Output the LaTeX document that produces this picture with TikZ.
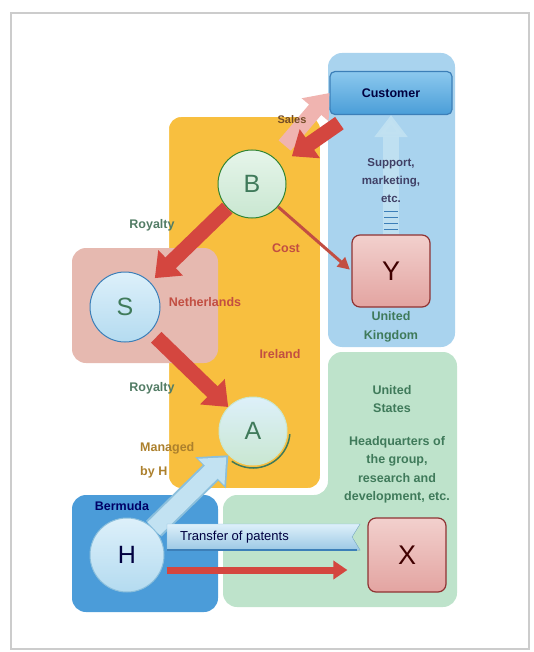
\documentclass[tikz,border=0pt]{standalone}
\usepackage{fontspec}
\setmainfont{Liberation Sans}
\usetikzlibrary{positioning, calc, arrows.meta, shapes}
\definecolor{ireland}{HTML}{F8BF3F}
\definecolor{ukblue}{HTML}{A9D3EE}
\definecolor{usgreen}{HTML}{BEE3CB}
\definecolor{nlpink}{HTML}{E6B9B0}
\definecolor{bermuda}{HTML}{4B9CD9}
\definecolor{royred}{HTML}{D4463F}
\definecolor{salespink}{HTML}{F0B4B0}
\definecolor{paleblue}{HTML}{C2E2F2}
\definecolor{paleedge}{HTML}{8BBFDC}
\definecolor{darkgreen}{HTML}{3F7A5A}
\definecolor{rustred}{HTML}{C24E42}
\definecolor{mintlight}{HTML}{E6F5EA}
\definecolor{mint}{HTML}{C9E7D1}
\definecolor{skylight}{HTML}{DDF0FA}
\definecolor{sky}{HTML}{B4DBF0}
\definecolor{boxlight}{HTML}{F2D0CD}
\definecolor{boxdark}{HTML}{E3A4A1}
\definecolor{custlight}{HTML}{8CC8EE}
\definecolor{custdark}{HTML}{4A9ED8}
\definecolor{stripe}{HTML}{3C7FB8}

\begin{document}
\begin{tikzpicture}
        [
            x=1pt, y=-1pt,
            region/.style={rounded corners=14pt, fill=#1},
            ball/.style={circle, inner sep=0pt, line width=1pt,
                         font=\fontsize{25}{25}\selectfont},
            sqbox/.style={rectangle, rounded corners=8pt, minimum width=78pt,
                          minimum height=72pt, top color=boxlight, bottom color=boxdark,
                          draw=red!45!black!80, line width=1.2pt, text=red!25!black,
                          font=\fontsize{27}{27}\selectfont},
            lbl/.style={inner sep=0pt, align=center, text=#1,
                        font=\bfseries\fontsize{12.5}{18.5}\selectfont},
            fatred/.style={royred, line width=15pt,
                           -{Triangle[length=22pt, width=34pt]}},
            thinred/.style={rustred, line width=3pt,
                            -{Triangle[length=12pt, width=12pt]}}
        ]
        \useasboundingbox (0,0) rectangle (533,652);
        \draw [gray!40, line width=1.5pt] (11,13) rectangle (529,649);

        \fill [region=usgreen] (328,352) -- (457,352) -- (457,607) -- (223,607)
              -- (223,495) -- (328,495) -- cycle;
        \filldraw [region=ireland, draw=white, line width=4pt]
              (167,115) rectangle (322,490);
        \fill [region=nlpink] (72,248) rectangle (218,363);
        \fill [region=ukblue] (328,53) rectangle (455,347);
        \fill [region=bermuda] (72,495) rectangle (218,612);

        \node (B) [ball, minimum size=68pt, top color=mintlight, bottom color=mint,
                   draw=green!40!black!80, text=darkgreen] at (252,184) {B};
        \node (S) [ball, minimum size=70pt, top color=skylight, bottom color=sky,
                   draw=stripe, text=darkgreen] at (125,307) {S};
        \node (A) [ball, minimum size=68pt, top color=skylight, bottom color=mint,
                   draw=mint, text=darkgreen] at (253,431) {A};
        \node (H) [ball, minimum size=74pt, top color=skylight, bottom color=sky,
                   draw=paleedge, text=blue!25!black] at (127,555) {H};
        \node (Y) [sqbox] at (391,271) {Y};
        \node (X) [sqbox, minimum height=74pt] at (407,555) {X};
        \node (Customer) [rectangle, rounded corners=5pt, minimum width=122pt,
                   minimum height=43pt, top color=custlight, bottom color=custdark,
                   draw=stripe, line width=1.2pt, text=blue!25!black,
                   font=\bfseries\fontsize{12.5}{12.5}\selectfont] at (391,93) {Customer};
        \draw [darkgreen, line width=1.5pt]
              ([shift={(-5:37pt)}]A.center) arc [start angle=-5, end angle=-125, radius=37pt];

        \draw [paleblue, opacity=.9, line width=16pt,
               -{Triangle[length=22pt, width=32pt]}] (Y.north) -- (Customer.south);
        \foreach \k in {0,...,3}
            \draw [stripe, line width=1.6pt]
                  ([xshift=-7pt, yshift={5pt+6*\k pt}]Y.north) -- ++(14,0);
        \draw [salespink, line width=16pt, shorten <=16pt,
               -{Triangle[length=22pt, width=34pt]}] (B) -- (Customer.west);
        \draw [fatred, shorten >=14pt] ([shift={(10,8)}]Customer.south west) -- (B);
        \draw [thinred, shorten >=2pt] (B) -- (Y.west);
        \draw [fatred, shorten >=6pt] (B) -- (S);
        \draw [fatred, shorten <=8pt] (S) -- (A);
        \draw [paleedge, line width=22pt,
               -{Triangle[length=25pt, width=42pt]}] (H) -- (A);
        \draw [paleblue, line width=18pt, shorten >=3pt,
               -{Triangle[length=21pt, width=36pt]}] (H) -- (A);

        \filldraw [top color=skylight, bottom color=sky!80!stripe, draw=paleedge]
              (167,524) -- (360,524) -- (352,537) -- (360,550) -- (167,550) -- cycle;
        \draw [stripe, line width=2pt] (167,550) -- (357,550);
        \node (patents) [anchor=west, inner sep=0pt, text=blue!25!black,
                         font=\fontsize{13}{13}\selectfont] at (180,537) {Transfer of patents};
        \draw [royred, line width=7pt, shorten <=2pt, shorten >=20pt,
               -{Triangle[length=14pt, width=18pt]}]
              ([yshift=-15pt]H.east) -- ([yshift=-15pt]X.west);

        \node (sales) [lbl=brown!60!black, font=\bfseries\fontsize{11}{11}\selectfont]
              at (292,120) {Sales};
        \node (support) [lbl=blue!20!black!75, font=\bfseries\fontsize{11.5}{18}\selectfont]
              at (391,181) {Support,\\marketing,\\etc.};
        \node (roy1) [lbl=darkgreen!70!gray] at (152,225) {Royalty};
        \node (roy2) [lbl=darkgreen!70!gray] at (152,388) {Royalty};
        \node (cost) [lbl=rustred] at (286,248) {Cost};
        \node (nl) [lbl=rustred] at (205,302) {Netherlands};
        \node (ie) [lbl=rustred] at (280,354) {Ireland};
        \node (uk) [lbl=darkgreen] at (391,327) {United\\Kingdom};
        \node (us) [lbl=darkgreen] at (392,399) {United\\States};
        \node (hq) [lbl=darkgreen] at (397,470)
              {Headquarters of\\the group,\\research and\\development, etc.};
        \node (managed) [lbl=brown!70!olive, anchor=west, align=left,
                         font=\bfseries\fontsize{12.5}{24}\selectfont]
              at (140,460) {Managed\\by H};
        \node (bermuda) [lbl=blue!40!black] at (122,506) {Bermuda};
    \end{tikzpicture}
\end{document}
